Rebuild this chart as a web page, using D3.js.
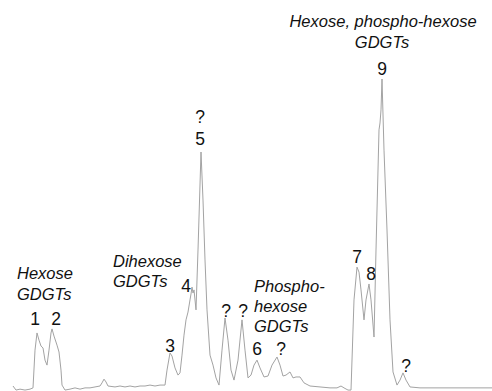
<!DOCTYPE html>
<html>
<head>
<meta charset="utf-8">
<script src="https://cdn.jsdelivr.net/npm/d3@7"></script>
<style>
  body { margin: 0; background: #fff; }
  svg { display: block; }
  .trace { fill: none; stroke: #a3a3a3; stroke-width: 1; }
  .lbl { font-family: "Liberation Sans", Arial, sans-serif; font-size: 16.5px; fill: #111; }
  .peak { font-size: 17.5px; }
  .grp { font-style: italic; }
</style>
</head>
<body>
<div id="chart"></div>
<script>
// retention time (min) and relative intensity (%)
var retentionTime = [1.3, 1.6, 2.0, 2.5, 3.0, 3.3, 3.5, 3.7, 3.9, 4.1, 4.3, 4.5, 4.7, 4.9, 5.1, 5.2, 5.4, 5.7, 5.9, 6.1,
  6.2, 6.5, 7.0, 7.5, 8.0, 8.5, 9.0, 9.5, 10.0, 10.2, 10.4, 10.6, 10.8, 11.5, 12.0, 12.5, 13.0, 13.5, 14.0, 14.5,
  15.0, 15.5, 16.0, 16.5, 16.7, 17.0, 17.2, 17.5, 17.8, 18.0, 18.2, 18.4, 18.6, 18.8, 19.0, 19.1, 19.2, 19.3, 19.4, 19.6,
  19.8, 20.1, 20.3, 20.5, 20.7, 21.0, 21.3, 21.6, 21.9, 22.2, 22.5, 22.8, 23.1, 23.4, 23.8, 24.2, 24.5, 24.8, 25.1, 25.4,
  25.7, 26.0, 26.4, 26.8, 27.2, 27.7, 28.0, 28.3, 28.6, 29.0, 29.3, 29.6, 30.0, 30.4, 31.0, 32.0, 33.0, 33.7, 34.1, 34.4,
  34.8, 35.1, 35.4, 35.7, 35.9, 36.1, 36.4, 36.6, 36.9, 37.1, 37.4, 37.6, 37.9, 38.0, 38.1, 38.2, 38.4, 38.7, 39.0, 39.3,
  39.7, 40.0, 40.3, 40.6, 41.0, 42.0, 44.0, 46.0, 48.0, 49.2];
var intensity = [1.6, 0.3, 0.6, 0.3, 0.6, 1.0, 13.1, 18.6, 16.3, 14.4, 13.8, 9.9, 8.3, 13.1, 18.6, 19.9, 17.6, 14.7, 12.5, 6.7,
  1.9, 0.3, 0.6, 1.0, 0.6, 1.0, 1.0, 1.3, 1.6, 2.6, 3.8, 2.9, 1.6, 1.3, 1.6, 1.3, 1.6, 1.3, 1.6, 1.6,
  1.9, 1.6, 1.9, 1.9, 6.7, 12.2, 11.2, 7.4, 5.1, 5.8, 11.5, 17.9, 22.8, 25.3, 29.2, 31.1, 33.3, 31.4, 32.4, 26.0,
  45.2, 76.6, 61.2, 42.0, 26.0, 11.5, 8.3, 4.2, 1.9, 13.1, 23.4, 16.3, 6.7, 3.5, 9.9, 22.8, 13.1, 4.2, 5.1, 8.3,
  9.9, 7.4, 4.5, 4.8, 8.3, 10.9, 8.3, 4.8, 5.1, 6.1, 4.2, 4.5, 4.5, 2.6, 1.6, 1.3, 1.0, 1.0, 1.6, 1.0,
  0.3, 0.3, 29.2, 39.7, 38.1, 32.4, 22.8, 29.2, 34.3, 29.2, 17.3, 45.2, 83.7, 85.9, 90.1, 100, 77.2, 51.6, 22.8, 6.1,
  1.9, 3.5, 5.8, 3.5, 1.3, 1.0, 1.0, 1.0, 1.0, 1.0];

// peak annotations: text, retention time, intensity level of the text baseline
var peakLabels = ["1", "2", "3", "4", "?", "5", "?", "?", "6", "?", "7", "8", "9", "?"];
var peakTime =   [3.5, 5.6, 17.0, 18.6, 20.0, 20.0, 22.6, 24.3, 25.7, 28.1, 35.7, 37.1, 38.2, 40.6];
var peakLevel =  [21.2, 21.2, 12.5, 31.7, 85.9, 78.8, 23.7, 23.7, 11.5, 11.5, 41.0, 35.6, 101.3, 6.1];

// compound group captions (italic), one entry per line
var groupLines = ["Hexose", "GDGTs", "Dihexose", "GDGTs", "Phospho-", "hexose", "GDGTs", "Hexose, phospho-hexose", "GDGTs"];
var groupTime =  [1.7, 1.7, 11.3, 11.3, 25.4, 25.4, 25.4, 38.3, 38.2];
var groupLevel = [35.9, 29.2, 39.7, 33.3, 31.7, 25.3, 18.9, 116.7, 109.9];
var groupAlign = ["start", "start", "start", "start", "start", "start", "start", "middle", "middle"];

var width = 492, height = 391;

var x = d3.scaleLinear().domain([0, 49.2]).range([0, width]);
var y = d3.scaleLinear().domain([0, 100]).range([391, 79]);

var svg = d3.select("#chart").append("svg")
    .attr("width", width)
    .attr("height", height);

var points = retentionTime.map(function(t, i) { return [t, intensity[i]]; });

var line = d3.line()
    .x(function(d) { return x(d[0]); })
    .y(function(d) { return y(d[1]); });

svg.append("path")
    .datum(points)
    .attr("class", "trace")
    .attr("d", line);

svg.selectAll(".peak")
    .data(peakLabels)
  .enter().append("text")
    .attr("class", "lbl peak")
    .attr("x", function(d, i) { return x(peakTime[i]); })
    .attr("y", function(d, i) { return y(peakLevel[i]); })
    .attr("text-anchor", "middle")
    .text(function(d) { return d; });

svg.selectAll(".grp")
    .data(groupLines)
  .enter().append("text")
    .attr("class", "lbl grp")
    .attr("x", function(d, i) { return x(groupTime[i]); })
    .attr("y", function(d, i) { return y(groupLevel[i]); })
    .attr("text-anchor", function(d, i) { return groupAlign[i]; })
    .text(function(d) { return d; });
</script>
</body>
</html>
